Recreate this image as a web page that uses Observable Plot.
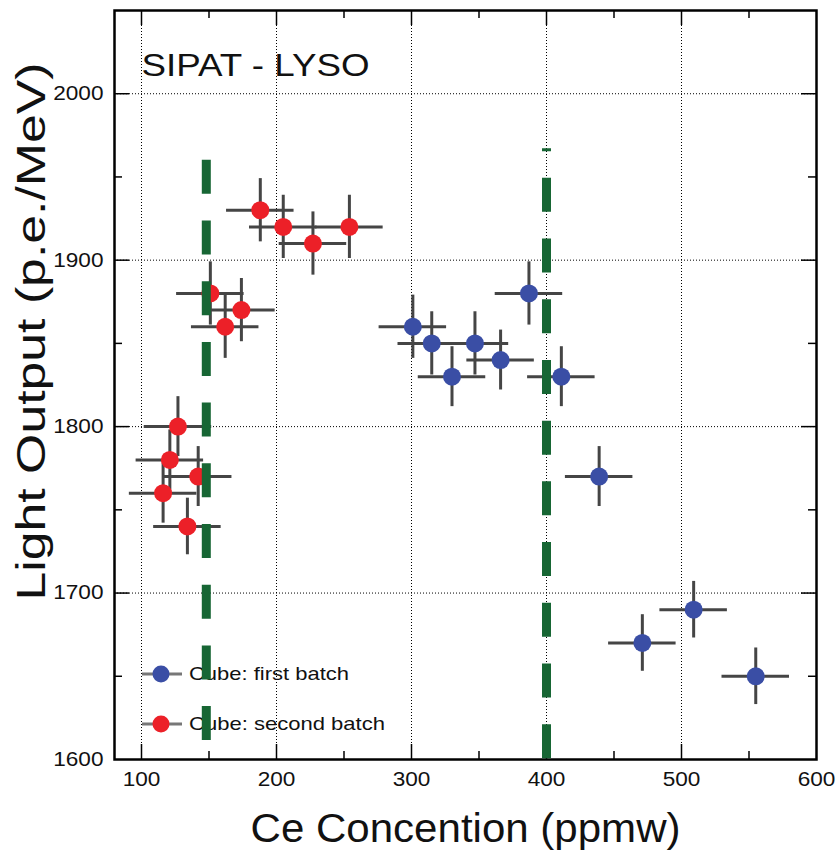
<!DOCTYPE html>
<html>
<head>
<meta charset="utf-8">
<script src="https://cdn.jsdelivr.net/npm/d3@7"></script>
<script src="https://cdn.jsdelivr.net/npm/@observablehq/plot@0.6"></script>
<style>
  html, body { margin: 0; padding: 0; background: #fff; }
  #chart svg { display: block; }
</style>
</head>
<body>
<div id="chart"></div>
<script>
// ---- data ----
const firstBatchX = [301, 315, 330, 347, 366, 387, 411, 439, 471, 509, 555];
const firstBatchY = [1860, 1850, 1830, 1850, 1840, 1880, 1830, 1770, 1670, 1690, 1650];
const firstBatchXErr = [25, 25, 25, 25, 25, 25, 25, 25, 25, 25, 25];
const firstBatchYErr = [19, 19, 18, 19, 18, 19, 18, 18, 17, 17, 17];

const secondBatchX = [188, 205, 227, 254, 151, 174, 162, 127, 121, 142, 116, 134];
const secondBatchY = [1930, 1920, 1910, 1920, 1880, 1870, 1860, 1800, 1780, 1770, 1760, 1740];
const secondBatchXErr = [25, 25, 25, 25, 25, 25, 25, 25, 25, 25, 25, 25];
const secondBatchYErr = [19, 19, 19, 19, 19, 19, 19, 18, 18, 18, 18, 17];

const seriesNames = ["Cube: first batch", "Cube: second batch"];
const seriesColors = ["#3a4ea5", "#ec2028"];

const cutX = [148, 400];
const cutTop = [1960, 1967];
const cutBottom = [1610, 1600];

const xTickLabels = [100, 200, 300, 400, 500, 600];
const xGrid = [100, 200, 300, 400, 500];
const xMinor = [150, 250, 350, 450, 550];
const yTickLabels = [1600, 1700, 1800, 1900, 2000];
const yGrid = [1700, 1800, 1900, 2000];
const yMinor = [1650, 1750, 1850, 1950];

const titleText = "SIPAT - LYSO";
const xLabel = "Ce Concention (ppmw)";
const yLabel = "Light Output (p.e./MeV)";

// ---- build table ----
const points = [
  ...firstBatchX.map((x, i) => ({series: 0, x, y: firstBatchY[i], xe: firstBatchXErr[i], ye: firstBatchYErr[i]})),
  ...secondBatchX.map((x, i) => ({series: 1, x, y: secondBatchY[i], xe: secondBatchXErr[i], ye: secondBatchYErr[i]}))
];
const cuts = cutX.map((x, i) => ({x, top: cutTop[i], bottom: cutBottom[i]}));

const W = 839, H = 851;
const mL = 114, mR = 23, mT = 10, mB = 92;
const plotW = W - mL - mR, plotH = H - mT - mB;
const font = "Liberation Sans, Arial, Helvetica, sans-serif";
const green = "#176634";
const barColor = "#454545";

// horizontal stretch of the reference's lettering (layout, not data)
const stretch = new Map([
  [titleText, 228],
  [xLabel, 430],
  [yLabel, 538],
  [seriesNames[0], 160],
  [seriesNames[1], 196]
]);
const tickStretch = 1.13;

function legend(index, scales, values, dims) {
  const g = d3.create("svg:g").attr("font-family", font);
  seriesNames.forEach((name, i) => {
    const cy = dims.height - dims.marginBottom - 85 + i * 50;
    const cx = dims.marginLeft + 47;
    g.append("line").attr("x1", cx - 19).attr("x2", cx + 21).attr("y1", cy).attr("y2", cy)
      .attr("stroke", "#777").attr("stroke-width", 3);
    g.append("circle").attr("cx", cx).attr("cy", cy).attr("r", 8.5).attr("fill", seriesColors[i]);
    g.append("text").attr("x", dims.marginLeft + 75).attr("y", cy + 6)
      .attr("text-anchor", "start")
      .attr("font-size", 19).attr("fill", "#111").text(name);
  });
  return g.node();
}

const chart = Plot.plot({
  width: W,
  height: H,
  marginLeft: mL,
  marginRight: mR,
  marginTop: mT,
  marginBottom: mB,
  style: {fontFamily: font, background: "#fff", color: "#111"},
  x: {domain: [80, 600], label: null},
  y: {domain: [1600, 2050], label: null},
  marks: [
    // dotted grid
    Plot.ruleX(xGrid, {stroke: "#000", strokeWidth: 1, strokeDasharray: "1,2"}),
    Plot.ruleY(yGrid, {stroke: "#000", strokeWidth: 1, strokeDasharray: "1,2"}),
    // inward ticks, major
    Plot.ruleX(xGrid, {insetTop: plotH - 15, stroke: "#000", strokeWidth: 1.5}),
    Plot.ruleX(xGrid, {insetBottom: plotH - 15, stroke: "#000", strokeWidth: 1.5}),
    Plot.ruleY(yGrid, {insetRight: plotW - 15, stroke: "#000", strokeWidth: 1.5}),
    Plot.ruleY(yGrid, {insetLeft: plotW - 15, stroke: "#000", strokeWidth: 1.5}),
    // inward ticks, minor
    Plot.ruleX(xMinor, {insetTop: plotH - 8, stroke: "#000", strokeWidth: 1.5}),
    Plot.ruleX(xMinor, {insetBottom: plotH - 8, stroke: "#000", strokeWidth: 1.5}),
    Plot.ruleY(yMinor, {insetRight: plotW - 8, stroke: "#000", strokeWidth: 1.5}),
    Plot.ruleY(yMinor, {insetLeft: plotW - 8, stroke: "#000", strokeWidth: 1.5}),
    // tick labels
    Plot.axisX({ticks: xTickLabels, tickSize: 0, tickPadding: 12, fontSize: 20, tickFormat: "d", label: null}),
    Plot.axisY({ticks: yTickLabels, tickSize: 0, tickPadding: 11, fontSize: 20, tickFormat: "d", label: null}),
    // error bars
    Plot.ruleY(points, {y: "y", x1: d => d.x - d.xe, x2: d => d.x + d.xe, stroke: barColor, strokeWidth: 3}),
    Plot.ruleX(points, {x: "x", y1: d => d.y - d.ye, y2: d => d.y + d.ye, stroke: barColor, strokeWidth: 3}),
    // points
    Plot.dot(points, {x: "x", y: "y", r: 9, fill: d => seriesColors[d.series], stroke: null}),
    // frame
    Plot.frame({stroke: "#000", strokeWidth: 2.5}),
    // title
    Plot.text([titleText], {frameAnchor: "top-left", textAnchor: "start", lineAnchor: "bottom", dx: 27, dy: 65, fontSize: 31, fill: "#111"}),
    // axis labels
    Plot.text([xLabel], {frameAnchor: "bottom", lineAnchor: "middle", dy: 70, fontSize: 40, fill: "#111"}),
    Plot.text([yLabel], {frameAnchor: "top-left", rotate: -90, textAnchor: "end", lineAnchor: "middle", dx: -82, dy: 52, fontSize: 40, fill: "#111"}),
    // legend
    legend,
    // vertical dashed markers
    Plot.ruleX(cuts.slice(0, 1), {x: "x", y1: "top", y2: "bottom", stroke: green, strokeWidth: 9, strokeDasharray: "34,26.7", strokeDashoffset: 0}),
    Plot.ruleX(cuts.slice(1, 2), {x: "x", y1: "top", y2: "bottom", stroke: green, strokeWidth: 9, strokeDasharray: "34,26.7", strokeDashoffset: 31})
  ]
});

document.getElementById("chart").appendChild(chart);

// widen the lettering to match the reference's proportions
const tickSet = new Set([...xTickLabels, ...yTickLabels].map(String));
chart.querySelectorAll("text").forEach(t => {
  const s = t.textContent;
  if (t.querySelector("tspan")) return;
  if (stretch.has(s)) {
    t.setAttribute("textLength", stretch.get(s));
    t.setAttribute("lengthAdjust", "spacingAndGlyphs");
  } else if (tickSet.has(s)) {
    const len = t.getComputedTextLength();
    t.setAttribute("textLength", (len * tickStretch).toFixed(1));
    t.setAttribute("lengthAdjust", "spacingAndGlyphs");
  }
});
</script>
</body>
</html>
